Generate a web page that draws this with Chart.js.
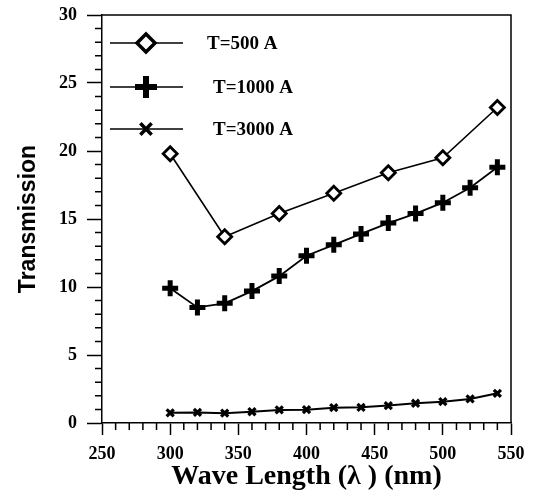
<!DOCTYPE html>
<html>
<head>
<meta charset="utf-8">
<script src="https://cdn.jsdelivr.net/npm/chart.js@4/dist/chart.umd.min.js"></script>
<style>
  html, body { margin: 0; padding: 0; background: #fff; }
  #wrap { width: 542px; height: 496px; }
</style>
</head>
<body>
<div id="wrap"><canvas id="c" width="542" height="496"></canvas></div>
<script>
// ---- data ----
const wavelengths500 = [300, 340, 380, 420, 460, 500, 540];
const trans500 = [19.8, 13.7, 15.4, 16.9, 18.4, 19.5, 23.2];

const wavelengths = [300, 320, 340, 360, 380, 400, 420, 440, 460, 480, 500, 520, 540];
const trans1000 = [9.9, 8.5, 8.8, 9.7, 10.8, 12.3, 13.1, 13.9, 14.7, 15.4, 16.2, 17.3, 18.8];
const trans3000 = [0.75, 0.78, 0.72, 0.83, 0.96, 0.98, 1.13, 1.15, 1.28, 1.45, 1.57, 1.77, 2.18];

const seriesLabels = ['T=500 A', 'T=1000 A', 'T=3000 A'];
const xTickValues = [250, 300, 350, 400, 450, 500, 550];
const yTickValues = [0, 5, 10, 15, 20, 25, 30];
const xTitle = 'Wave Length (\u03bb ) (nm)';
const yTitle = 'Transmission';

const toPoints = (xs, ys) => xs.map((x, i) => ({ x: x, y: ys[i] }));

const frameAndTicks = {
  id: 'frameAndTicks',
  afterDraw(chart) {
    const ctx = chart.ctx;
    const a = chart.chartArea;
    const xs = chart.scales.x, ys = chart.scales.y;
    ctx.save();
    ctx.strokeStyle = '#000';
    ctx.lineWidth = 1.5;
    ctx.beginPath();
    ctx.moveTo(a.left, a.top); ctx.lineTo(a.right, a.top); ctx.lineTo(a.right, a.bottom);
    ctx.stroke();
    ctx.lineWidth = 1.5;
    ctx.beginPath();
    for (let v = 0; v <= 30; v++) {
      if (v % 5 === 0) continue;
      const p = ys.getPixelForValue(v);
      ctx.moveTo(a.left - 7, p); ctx.lineTo(a.left, p);
    }
    for (let v = 250; v <= 550; v += 10) {
      if (v % 50 === 0) continue;
      const p = xs.getPixelForValue(v);
      ctx.moveTo(p, a.bottom); ctx.lineTo(p, a.bottom + 7);
    }
    ctx.stroke();

    // legend inside the plot
    const rows = [28, 72, 114];
    const textX = [105, 111, 111];
    chart.data.datasets.forEach((ds, i) => {
      const y = a.top + rows[i];
      ctx.strokeStyle = '#000';
      ctx.lineWidth = 1.5;
      ctx.beginPath();
      ctx.moveTo(a.left + 8, y); ctx.lineTo(a.left + 81, y);
      ctx.stroke();
      ctx.lineWidth = ds.borderWidthLegend;
      ctx.fillStyle = ds.pointBackgroundColor;
      ctx.strokeStyle = '#000';
      Chart.helpers.drawPoint(ctx, {
        pointStyle: ds.pointStyle,
        radius: ds.legendRadius,
        borderWidth: ds.borderWidthLegend,
        rotation: 0
      }, a.left + 44, y);
      ctx.fillStyle = '#000';
      ctx.font = 'bold 19px "Liberation Serif", serif';
      ctx.textBaseline = 'middle';
      ctx.textAlign = 'left';
      ctx.fillText(ds.label, a.left + textX[i], y + 1);
    });
    ctx.restore();
  }
};

new Chart(document.getElementById('c'), {
  type: 'line',
  data: {
    datasets: [
      {
        label: seriesLabels[0],
        data: toPoints(wavelengths500, trans500),
        borderColor: '#000', borderWidth: 1.6,
        pointStyle: 'rectRot', pointRadius: 7, pointBorderWidth: 2.8,
        pointBackgroundColor: '#fff', pointBorderColor: '#000',
        legendRadius: 9, borderWidthLegend: 3.5
      },
      {
        label: seriesLabels[1],
        data: toPoints(wavelengths, trans1000),
        borderColor: '#000', borderWidth: 1.8,
        pointStyle: 'cross', pointRadius: 8, pointBorderWidth: 5,
        pointBackgroundColor: '#000', pointBorderColor: '#000',
        legendRadius: 11, borderWidthLegend: 6
      },
      {
        label: seriesLabels[2],
        data: toPoints(wavelengths, trans3000),
        borderColor: '#000', borderWidth: 2,
        pointStyle: 'crossRot', pointRadius: 5, pointBorderWidth: 3.2,
        pointBackgroundColor: '#000', pointBorderColor: '#000',
        legendRadius: 8, borderWidthLegend: 3.5
      }
    ]
  },
  options: {
    responsive: false,
    animation: false,
    devicePixelRatio: 1,
    layout: { padding: { left: 0, top: 15, right: 31, bottom: 0 } },
    plugins: { legend: { display: false }, tooltip: { enabled: false } },
    elements: { line: { tension: 0 } },
    scales: {
      x: {
        type: 'linear', min: 250, max: 550,
        afterBuildTicks: (s) => { s.ticks = xTickValues.map(v => ({ value: v })); },
        afterFit: (s) => { s.height = 73; },
        border: { color: '#000', width: 1.5 },
        grid: { drawOnChartArea: false, color: '#000', tickLength: 12, tickWidth: 1.5 },
        ticks: {
          color: '#000', padding: 9, maxRotation: 0,
          font: { family: '"Liberation Serif", serif', size: 18, weight: 'bold' }
        },
        title: {
          display: true, text: xTitle, color: '#000',
          padding: { top: 0, bottom: 2 },
          font: { family: '"Liberation Serif", serif', size: 28, weight: 'bold' }
        }
      },
      y: {
        min: 0, max: 30,
        afterBuildTicks: (s) => { s.ticks = yTickValues.map(v => ({ value: v })); },
        afterFit: (s) => { s.width = 102; s.paddingTop = 0; s.paddingBottom = 0; },
        border: { color: '#000', width: 1.5 },
        grid: { drawOnChartArea: false, color: '#000', tickLength: 15, tickWidth: 1.5 },
        ticks: {
          color: '#000', padding: 10,
          font: { family: '"Liberation Serif", serif', size: 18, weight: 'bold' }
        },
        title: {
          display: true, text: yTitle, color: '#000',
          padding: { top: 15, bottom: 0 },
          font: { family: '"Liberation Sans", Arial, sans-serif', size: 23, weight: 'bold' }
        }
      }
    }
  },
  plugins: [frameAndTicks]
});
</script>
</body>
</html>
